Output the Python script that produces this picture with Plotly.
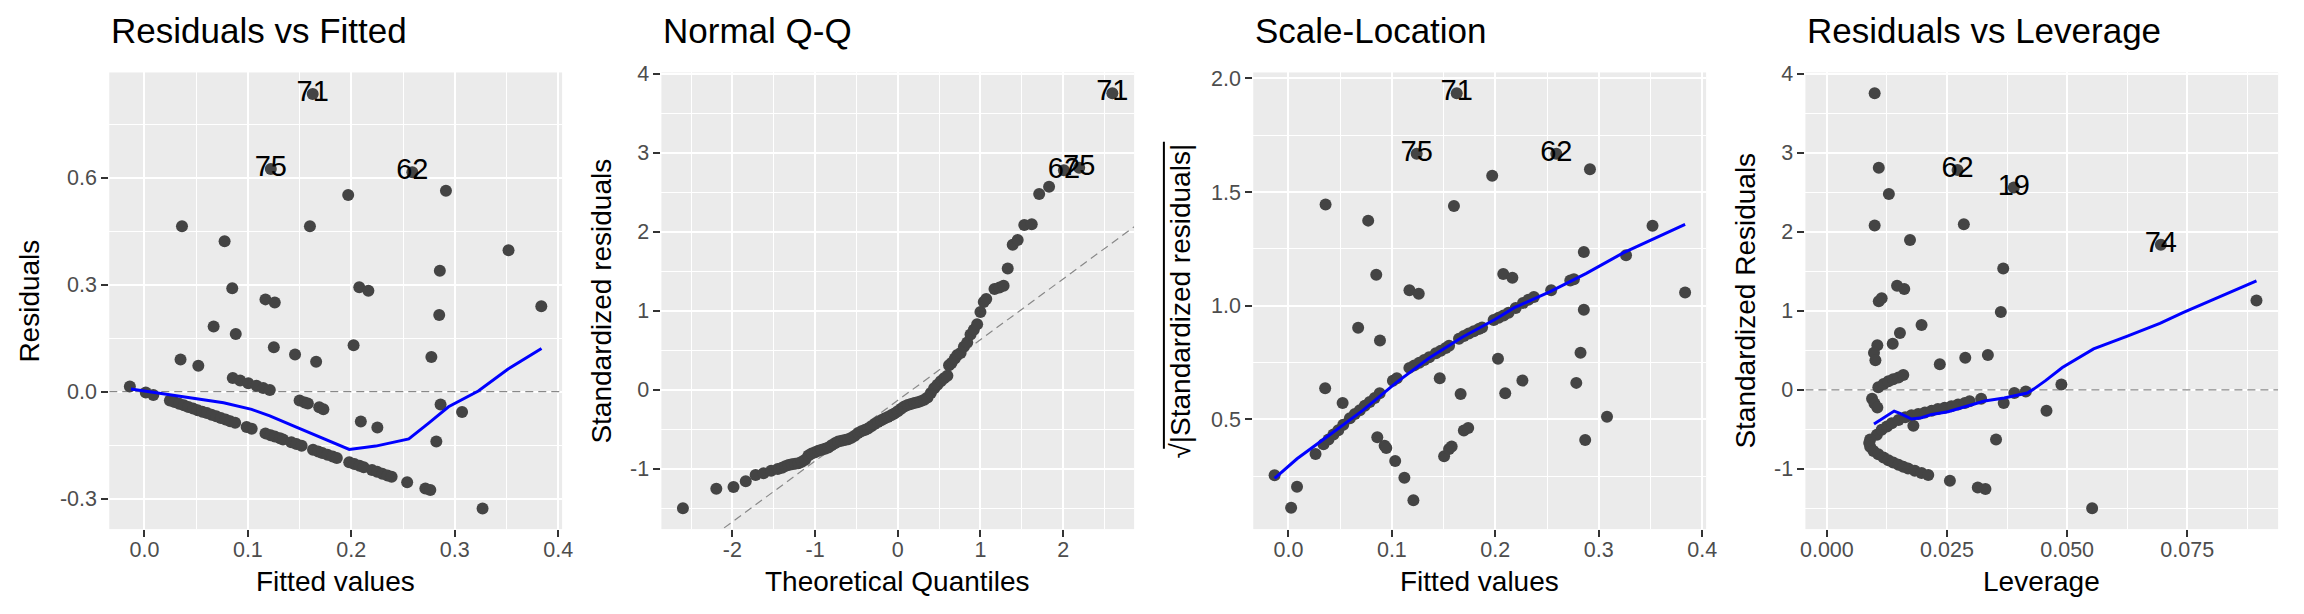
import plotly.graph_objects as go

FONT = "Liberation Sans"
W, H = 2304, 614

# ---------------- Panel 1: Residuals vs Fitted ----------------
rvf_fitted = [
    -0.0141, 0.0013, 0.0086,
    0.0246, 0.0291, 0.0336, 0.0381, 0.0425, 0.0470, 0.0515, 0.0560, 0.0604, 0.0649, 0.0694,
    0.0739, 0.0784, 0.0829, 0.0877, 0.0988, 0.1037, 0.117, 0.122, 0.126, 0.131, 0.134,
    0.142, 0.147, 0.152, 0.163, 0.168, 0.172, 0.177, 0.182, 0.186, 0.198, 0.203, 0.208,
    0.212, 0.220, 0.225, 0.230, 0.235, 0.239, 0.254, 0.2716, 0.2764,
    0.0349, 0.0521, 0.0669, 0.0883, 0.1251, 0.1456, 0.166, 0.2022, 0.2774, 0.285, 0.3837,
    0.0854, 0.0925, 0.1004, 0.1084, 0.1148, 0.1212,
    0.150, 0.155, 0.158, 0.169, 0.173, 0.2092, 0.2252, 0.2822, 0.2863, 0.3071, 0.3269,
    0.1627, 0.1222, 0.259, 0.2915, 0.197, 0.0363, 0.160, 0.0775, 0.352, 0.2856, 0.0849,
    0.2077, 0.2165, 0.117, 0.126,
]
rvf_resid = [
    0.0147, -0.002, -0.009,
    -0.025, -0.029, -0.034, -0.038, -0.043, -0.047, -0.052, -0.056, -0.060, -0.065, -0.069,
    -0.074, -0.078, -0.083, -0.087, -0.099, -0.104, -0.117, -0.122, -0.126, -0.131, -0.134,
    -0.142, -0.147, -0.152, -0.163, -0.168, -0.172, -0.177, -0.182, -0.186, -0.198, -0.203, -0.208,
    -0.212, -0.220, -0.225, -0.230, -0.235, -0.239, -0.254, -0.272, -0.276,
    0.0902, 0.0727, 0.183, 0.162, 0.125, 0.104, 0.0837, 0.1306, 0.0975, 0.215, 0.240,
    0.0386, 0.0313, 0.0239, 0.0166, 0.0101, 0.0046,
    -0.0248, -0.0304, -0.0331, -0.044, -0.049, -0.0837, -0.1003, -0.1398, -0.0359, -0.057, -0.3275,
    0.835, 0.625, 0.616, 0.564, 0.552, 0.464, 0.464, 0.422, 0.397, 0.339, 0.290,
    0.293, 0.283, 0.259, 0.250,
]
rvf_smooth_x = [-0.0131, 0.0445, 0.0765, 0.1036, 0.1212, 0.1468, 0.1724, 0.1980, 0.2236,
                0.2556, 0.2748, 0.2940, 0.3228, 0.3516, 0.3839]
rvf_smooth_y = [0.0074, -0.0166, -0.0313, -0.0497, -0.068, -0.0994, -0.1297, -0.162, -0.1527,
                -0.1325, -0.0883, -0.0423, 0.0018, 0.0635, 0.1214]
rvf_labels = ["71", "75", "62"]
rvf_label_x = [0.1627, 0.1222, 0.259]
rvf_label_y = [0.835, 0.625, 0.616]

# ---------------- Panel 2: Normal Q-Q ----------------
qq_theoretical = [
    -2.598, -2.194, -1.986, -1.838, -1.719, -1.623, -1.531, -1.451,
    -1.40, -1.36, -1.32, -1.28, -1.24, -1.20, -1.16, -1.12, -1.08, -1.04, -1.00, -0.96, -0.92,
    -0.88, -0.84, -0.80, -0.76, -0.72, -0.68, -0.64, -0.60, -0.56, -0.52, -0.48, -0.44, -0.40,
    -0.36, -0.32, -0.28, -0.24, -0.20, -0.16, -0.12, -0.08, -0.04, 0.00, 0.04, 0.08, 0.12,
    0.16, 0.20, 0.24, 0.28, 0.32, 0.36, 0.40, 0.44, 0.48, 0.52, 0.56, 0.60, 0.62, 0.65, 0.69,
    0.72, 0.76, 0.80, 0.84, 0.88, 0.92, 0.96, 1.00, 1.04, 1.07, 1.17, 1.23, 1.28, 1.33, 1.39,
    1.45, 1.53, 1.62, 1.71, 1.83, 2.009, 2.194, 2.595,
]
qq_std_resid = [
    -1.499, -1.250, -1.230, -1.155, -1.077, -1.056, -1.023, -1.002,
    -0.985, -0.965, -0.950, -0.942, -0.935, -0.928, -0.910, -0.885, -0.830, -0.805, -0.790,
    -0.772, -0.758, -0.744, -0.728, -0.700, -0.675, -0.655, -0.645, -0.636, -0.626, -0.605,
    -0.582, -0.545, -0.525, -0.508, -0.488, -0.460, -0.433, -0.407, -0.386, -0.364, -0.345,
    -0.323, -0.300, -0.272, -0.240, -0.210, -0.192, -0.178, -0.168, -0.156, -0.143, -0.125,
    -0.097, -0.040, 0.020, 0.065, 0.108, 0.145, 0.178, 0.310, 0.340, 0.395, 0.440, 0.465,
    0.545, 0.600, 0.700, 0.760, 0.830, 0.985, 1.110, 1.150, 1.275, 1.295, 1.315, 1.535, 1.834,
    1.896, 2.083, 2.095, 2.477, 2.568, 2.776, 2.809, 3.751,
]
qq_ref_x = [-2.86, 2.86]
qq_ref_y = [-2.330, 2.063]
qq_labels = ["71", "62", "75"]
qq_label_x = [2.595, 2.009, 2.194]
qq_label_y = [3.751, 2.776, 2.809]

# ---------------- Panel 3: Scale-Location ----------------
sl_fitted = [
    0.1627, 0.124, 0.259, 0.2915, 0.197, 0.0359, 0.160, 0.0771, 0.352, 0.2856, 0.3264,
    0.0849, 0.2077, 0.2165, 0.117, 0.126, 0.3835, 0.254, 0.2725, 0.276, 0.2856,
    0.2197, 0.2268, 0.232, 0.2373,
    -0.0134, 0.0083, 0.0026, 0.0262, 0.0355, 0.0524, 0.0674, 0.0885, 0.0859, 0.093, 0.0946,
    0.1032, 0.1121, 0.1208, 0.1463, 0.1665, 0.1505, 0.1553, 0.1578, 0.1696, 0.1738, 0.2026,
    0.2096, 0.2262, 0.2783, 0.2824, 0.2869, 0.308,
    0.0339, 0.0387, 0.0435, 0.0482, 0.053, 0.0594, 0.0642, 0.069, 0.0738, 0.0786, 0.0834,
    0.0882, 0.101, 0.1048, 0.1169, 0.1217, 0.1265, 0.1313, 0.1361, 0.1425, 0.1473, 0.1521,
    0.1553, 0.1649, 0.1696, 0.1744, 0.1792, 0.184, 0.1872, 0.1984, 0.2032, 0.208, 0.2128,
]
sl_sqrt_std = [
    1.935, 1.668, 1.668, 1.600, 1.571, 1.445, 1.438, 1.374, 1.351, 1.236, 1.222,
    1.136, 1.139, 1.123, 1.068, 1.052, 1.058, 1.068, 1.110, 1.116, 0.982,
    0.990, 1.012, 1.026, 1.038,
    0.254, 0.203, 0.111, 0.347, 0.636, 0.571, 0.903, 0.847, 0.421, 0.383, 0.373,
    0.316, 0.243, 0.143, 0.680, 0.611, 0.337, 0.369, 0.380, 0.450, 0.461, 0.766,
    0.614, 0.670, 0.660, 0.793, 0.409, 0.511,
    0.390, 0.411, 0.433, 0.451, 0.476, 0.504, 0.523, 0.540, 0.559, 0.576, 0.593,
    0.614, 0.669, 0.680, 0.726, 0.737, 0.749, 0.761, 0.773, 0.790, 0.801, 0.814,
    0.823, 0.854, 0.866, 0.877, 0.887, 0.897, 0.904, 0.937, 0.947, 0.957, 0.969,
]
sl_smooth_x = [-0.0134, 0.0083, 0.0403, 0.0722, 0.1042, 0.1361, 0.168, 0.200, 0.218, 0.253,
               0.288, 0.3236, 0.3835]
sl_smooth_y = [0.240, 0.326, 0.433, 0.540, 0.661, 0.769, 0.861, 0.940, 0.990, 1.062,
               1.142, 1.232, 1.357]
sl_labels = ["71", "75", "62"]
sl_label_x = [0.1627, 0.124, 0.259]
sl_label_y = [1.935, 1.668, 1.668]

# ---------------- Panel 4: Residuals vs Leverage ----------------
rvl_leverage = [
    0.00994, 0.0108, 0.0272, 0.0389, 0.0129, 0.00994, 0.0285, 0.0173, 0.0695, 0.0367,
    0.0146, 0.0161, 0.0108, 0.0114, 0.0894, 0.0362,
    0.0197, 0.0152, 0.0137, 0.0105, 0.0098, 0.0101, 0.0235, 0.0288, 0.0335, 0.0488,
    0.0107, 0.0118, 0.0128, 0.0138, 0.0149, 0.0159,
    0.0094, 0.0099, 0.0105, 0.0457, 0.0368, 0.039, 0.0414, 0.0352, 0.018, 0.0256, 0.0314,
    0.033, 0.0552,
    0.0104, 0.0114, 0.0125, 0.0135, 0.0149, 0.0163, 0.0176, 0.019, 0.0204, 0.0218, 0.0231,
    0.0245, 0.0259, 0.0273, 0.0287, 0.0297, 0.0321,
    0.0090, 0.0088, 0.0090, 0.0097,
    0.0107, 0.0118, 0.0128, 0.0138, 0.0149, 0.0159, 0.0169, 0.0183, 0.0197, 0.0211,
]
rvl_std_resid = [
    3.751, 2.809, 2.780, 2.560, 2.477, 2.079, 2.095, 1.896, 1.834, 1.535,
    1.315, 1.274, 1.120, 1.158, 1.129, 0.985,
    0.820, 0.720, 0.584, 0.563, 0.468, 0.373, 0.323, 0.406, 0.439, 0.066,
    0.033, 0.075, 0.108, 0.133, 0.157, 0.186,
    -0.112, -0.174, -0.224, -0.265, -0.166, -0.041, -0.021, -0.629, -0.455, -1.151, -1.234,
    -1.255, -1.499,
    -0.567, -0.505, -0.464, -0.422, -0.381, -0.348, -0.323, -0.306, -0.286, -0.265, -0.244,
    -0.228, -0.207, -0.186, -0.166, -0.145, -0.112,
    -0.629, -0.671, -0.720, -0.774,
    -0.816, -0.857, -0.890, -0.919, -0.948, -0.973, -0.994, -1.023, -1.052, -1.077,
]
rvl_smooth_x = [0.0098, 0.0140, 0.0152, 0.0176, 0.0197, 0.0218, 0.0252, 0.0287, 0.0328,
                0.0369, 0.0417, 0.0431, 0.0455, 0.0490, 0.0555, 0.0624, 0.0693, 0.0741, 0.0894]
rvl_smooth_y = [-0.431, -0.269, -0.298, -0.369, -0.352, -0.311, -0.277, -0.215, -0.141,
                -0.104, -0.041, 0.012, 0.116, 0.282, 0.518, 0.675, 0.841, 0.977, 1.378]
rvl_labels = ["62", "19", "74"]
rvl_label_x = [0.0272, 0.0389, 0.0695]
rvl_label_y = [2.780, 2.560, 1.834]

# ---------------- styling ----------------
POINT = "#444444"
BLUE = "#0000FF"
DASH = "#888888"

fig = go.Figure()


def add_points(x, y, i):
    fig.add_trace(go.Scatter(x=x, y=y, mode="markers", xaxis=f"x{i}", yaxis=f"y{i}",
                             marker=dict(color=POINT, size=12, line=dict(width=0)),
                             showlegend=False, hoverinfo="skip"))


def add_line(x, y, i, color, width, dash=None):
    fig.add_trace(go.Scatter(x=x, y=y, mode="lines", xaxis=f"x{i}", yaxis=f"y{i}",
                             line=dict(color=color, width=width, dash=dash),
                             showlegend=False, hoverinfo="skip"))


def add_labels(x, y, t, i):
    fig.add_trace(go.Scatter(x=x, y=y, text=t, mode="text", xaxis=f"x{i}", yaxis=f"y{i}",
                             textposition="middle center",
                             textfont=dict(family=FONT, size=29, color="#000000"),
                             showlegend=False, hoverinfo="skip", cliponaxis=False))


# panel 1
add_line([-0.034, 0.4038], [0, 0], 1, DASH, 1.2, "8px,5px")
add_points(rvf_fitted, rvf_resid, 1)
add_line(rvf_smooth_x, rvf_smooth_y, 1, BLUE, 3)
add_labels(rvf_label_x, rvf_label_y, rvf_labels, 1)
# panel 2
add_line(qq_ref_x, qq_ref_y, 2, DASH, 1.2, "8px,5px")
add_points(qq_theoretical, qq_std_resid, 2)
add_labels(qq_label_x, qq_label_y, qq_labels, 2)
# panel 3
add_points(sl_fitted, sl_sqrt_std, 3)
add_line(sl_smooth_x, sl_smooth_y, 3, BLUE, 3)
add_labels(sl_label_x, sl_label_y, sl_labels, 3)
# panel 4
add_line([-0.00447, 0.0939], [0, 0], 4, DASH, 1.2, "8px,5px")
add_points(rvl_leverage, rvl_std_resid, 4)
add_line(rvl_smooth_x, rvl_smooth_y, 4, BLUE, 3)
add_labels(rvl_label_x, rvl_label_y, rvl_labels, 4)

# ---------------- layout ----------------
panels_px = [(105, 561), (661, 1137), (1257, 1713), (1813, 2289)]
top_px, bot_px = 63.5, 527.7
ydom = [1 - bot_px / H, 1 - top_px / H]

xcfg = [
    dict(range=[-0.034, 0.4038], tickvals=[0, 0.1, 0.2, 0.3, 0.4],
         ticktext=["0.0", "0.1", "0.2", "0.3", "0.4"], minor=[0.05, 0.15, 0.25, 0.35]),
    dict(range=[-2.858, 2.858], tickvals=[-2, -1, 0, 1, 2],
         ticktext=["-2", "-1", "0", "1", "2"], minor=[-2.5, -1.5, -0.5, 0.5, 1.5, 2.5]),
    dict(range=[-0.034, 0.4038], tickvals=[0, 0.1, 0.2, 0.3, 0.4],
         ticktext=["0.0", "0.1", "0.2", "0.3", "0.4"], minor=[0.05, 0.15, 0.25, 0.35]),
    dict(range=[-0.00447, 0.0939], tickvals=[0, 0.025, 0.05, 0.075],
         ticktext=["0.000", "0.025", "0.050", "0.075"], minor=[0.0125, 0.0375, 0.0625, 0.0875]),
]
ycfg = [
    dict(range=[-0.3856, 0.8957], tickvals=[-0.3, 0, 0.3, 0.6],
         ticktext=["-0.3", "0.0", "0.3", "0.6"], minor=[-0.15, 0.15, 0.45, 0.75]),
    dict(range=[-1.7615, 4.0135], tickvals=[-1, 0, 1, 2, 3, 4],
         ticktext=["-1", "0", "1", "2", "3", "4"], minor=[-1.5, -0.5, 0.5, 1.5, 2.5, 3.5]),
    dict(range=[0.0165, 2.026], tickvals=[0.5, 1, 1.5, 2],
         ticktext=["0.5", "1.0", "1.5", "2.0"], minor=[0.25, 0.75, 1.25, 1.75]),
    dict(range=[-1.7615, 4.0135], tickvals=[-1, 0, 1, 2, 3, 4],
         ticktext=["-1", "0", "1", "2", "3", "4"], minor=[-1.5, -0.5, 0.5, 1.5, 2.5, 3.5]),
]


def axis_common(c):
    return dict(range=c["range"], tickmode="array", tickvals=c["tickvals"], ticktext=c["ticktext"],
                ticks="outside", ticklen=7, tickwidth=2, tickcolor="#333333",
                tickfont=dict(family=FONT, size=21.5, color="#4D4D4D"),
                showgrid=True, gridcolor="#FFFFFF", gridwidth=2.2, zeroline=False, showline=False,
                minor=dict(tickmode="array", tickvals=c["minor"], showgrid=True,
                           gridcolor="#FFFFFF", gridwidth=1.1, ticks=""),
                fixedrange=True)


layout = dict(width=W, height=H, margin=dict(l=0, r=0, t=0, b=0),
              paper_bgcolor="#FFFFFF", plot_bgcolor="#EBEBEB", showlegend=False)
for i, (l, r) in enumerate(panels_px, start=1):
    xa = axis_common(xcfg[i - 1])
    xa.update(domain=[l / W, r / W], anchor=f"y{i}", ticklabelstandoff=-6)
    ya = axis_common(ycfg[i - 1])
    ya.update(domain=ydom, anchor=f"x{i}")
    layout["xaxis" if i == 1 else f"xaxis{i}"] = xa
    layout["yaxis" if i == 1 else f"yaxis{i}"] = ya

fig.update_layout(**layout)

titles = ["Residuals vs Fitted", "Normal Q-Q", "Scale-Location", "Residuals vs Leverage"]
xtitles = ["Fitted values", "Theoretical Quantiles", "Fitted values", "Leverage"]
ytitles = ["Residuals", "Standardized residuals", "\u221a|Standardized residuals|",
           "Standardized Residuals"]
ytitle_x = [25, 601, 1184, 1753]

ann = []
for i, (l, r) in enumerate(panels_px):
    ann.append(dict(text=titles[i], x=l / W, y=1 - 21 / H, xref="paper", yref="paper",
                    xanchor="left", yanchor="middle", showarrow=False,
                    font=dict(family=FONT, size=35, color="#000000")))
    ann.append(dict(text=xtitles[i], x=(l + r) / 2 / W, y=1 - 581 / H, xref="paper", yref="paper",
                    xanchor="center", yanchor="middle", showarrow=False,
                    font=dict(family=FONT, size=28, color="#000000")))
    ann.append(dict(text=ytitles[i], x=ytitle_x[i] / W, y=1 - 295.6 / H, xref="paper",
                    yref="paper", xanchor="center", yanchor="middle", showarrow=False,
                    textangle=-90, font=dict(family=FONT, size=28, color="#000000")))
fig.update_layout(annotations=ann)

# overbar of the square-root in the Scale-Location y title
fig.add_shape(type="line", xref="paper", yref="paper",
              x0=1167 / W, x1=1167 / W, y0=1 - 446 / H, y1=1 - 134 / H,
              line=dict(color="#000000", width=2))

fig.write_html("out.html")
